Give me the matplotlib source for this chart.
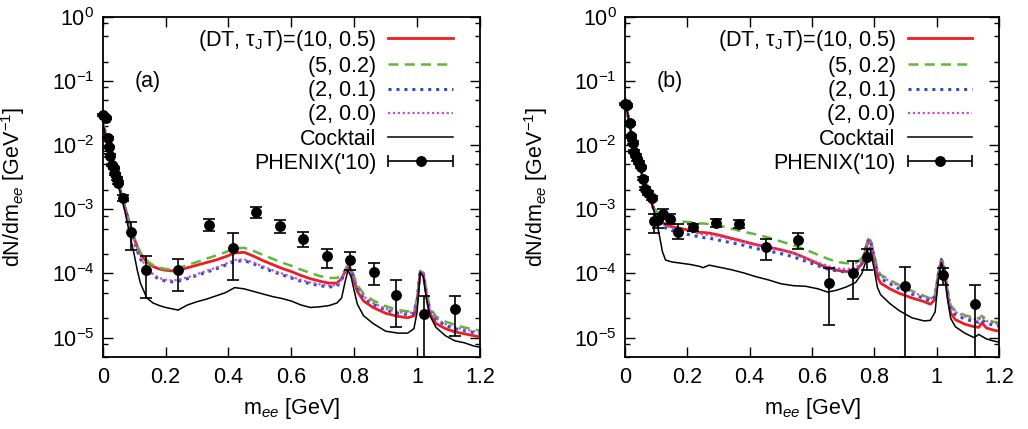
import numpy as np
import matplotlib
matplotlib.use('Agg')
import matplotlib.pyplot as plt
from matplotlib.ticker import LogLocator, NullFormatter, MultipleLocator, FuncFormatter
from matplotlib.lines import Line2D
from matplotlib.collections import LineCollection
from matplotlib.container import ErrorbarContainer
from matplotlib.legend_handler import HandlerErrorbar

FS = 15.5
plt.rcParams['font.family'] = ['Liberation Sans', 'DejaVu Sans']
plt.rcParams['mathtext.fontset'] = 'custom'
plt.rcParams['mathtext.rm'] = 'Liberation Sans'
plt.rcParams['mathtext.it'] = 'Liberation Sans:italic'
plt.rcParams['mathtext.bf'] = 'Liberation Sans:bold'
plt.rcParams['font.size'] = FS

# ---- panel (a): model curves, log10(dN/dm) on a common mass grid ----
xa = [0.00, 0.01, 0.02, 0.03, 0.04, 0.05, 0.06, 0.07, 0.08, 0.09,
      0.10, 0.11, 0.12, 0.14, 0.16, 0.18, 0.20, 0.22, 0.24, 0.27,
      0.30, 0.33, 0.36, 0.39, 0.42, 0.45, 0.48, 0.51, 0.54, 0.57,
      0.60, 0.63, 0.66, 0.69, 0.72, 0.745, 0.76, 0.77, 0.78, 0.79,
      0.80, 0.81, 0.83, 0.86, 0.90, 0.94, 0.97, 0.99, 1.00, 1.01,
      1.02, 1.03, 1.04, 1.06, 1.09, 1.12, 1.15, 1.18, 1.20]
red_a = [-1.62, -1.85, -2.05, -2.25, -2.42, -2.60, -2.78, -2.96, -3.12, -3.30,
         -3.45, -3.58, -3.69, -3.82, -3.89, -3.93, -3.95, -3.96, -3.95, -3.91,
         -3.87, -3.83, -3.79, -3.74, -3.68, -3.67, -3.73, -3.80, -3.86, -3.92,
         -3.97, -4.03, -4.08, -4.12, -4.15, -4.15, -4.08, -3.98, -3.88, -3.95,
         -4.12, -4.28, -4.43, -4.53, -4.62, -4.67, -4.69, -4.66, -4.45, -3.97,
         -4.02, -4.35, -4.62, -4.78, -4.86, -4.91, -4.94, -4.97, -4.99]
green_a = [-1.62, -1.85, -2.05, -2.25, -2.42, -2.60, -2.78, -2.96, -3.12, -3.29,
           -3.44, -3.57, -3.68, -3.80, -3.87, -3.91, -3.93, -3.94, -3.92, -3.87,
           -3.82, -3.77, -3.72, -3.67, -3.61, -3.60, -3.65, -3.71, -3.77, -3.83,
           -3.88, -3.94, -3.99, -4.04, -4.07, -4.07, -4.02, -3.95, -3.87, -3.92,
           -4.05, -4.18, -4.32, -4.42, -4.51, -4.57, -4.59, -4.57, -4.40, -3.96,
           -4.00, -4.28, -4.52, -4.67, -4.75, -4.80, -4.84, -4.87, -4.89]
blue_a = [-1.62, -1.85, -2.05, -2.25, -2.42, -2.60, -2.78, -2.97, -3.14, -3.33,
          -3.50, -3.65, -3.77, -3.93, -4.03, -4.09, -4.12, -4.13, -4.12, -4.08,
          -4.03, -3.98, -3.93, -3.87, -3.81, -3.80, -3.85, -3.91, -3.97, -4.02,
          -4.07, -4.12, -4.16, -4.19, -4.21, -4.20, -4.10, -3.98, -3.88, -3.94,
          -4.10, -4.24, -4.38, -4.48, -4.57, -4.62, -4.64, -4.62, -4.42, -3.96,
          -4.00, -4.32, -4.57, -4.72, -4.81, -4.86, -4.89, -4.92, -4.94]
magenta_a = [-1.62, -1.85, -2.05, -2.25, -2.42, -2.60, -2.78, -2.97, -3.14, -3.32,
             -3.49, -3.63, -3.75, -3.91, -4.01, -4.07, -4.10, -4.11, -4.10, -4.06,
             -4.01, -3.96, -3.91, -3.85, -3.79, -3.78, -3.83, -3.89, -3.95, -4.00,
             -4.05, -4.10, -4.14, -4.17, -4.19, -4.18, -4.09, -3.97, -3.87, -3.93,
             -4.09, -4.22, -4.36, -4.46, -4.55, -4.60, -4.62, -4.60, -4.41, -3.96,
             -4.00, -4.30, -4.55, -4.70, -4.79, -4.84, -4.87, -4.90, -4.92]
cocktail_a = [-1.65, -1.88, -2.08, -2.28, -2.45, -2.63, -2.82, -3.02, -3.25, -3.48,
              -3.70, -3.95, -4.15, -4.38, -4.46, -4.50, -4.53, -4.55, -4.57, -4.49,
              -4.44, -4.40, -4.35, -4.30, -4.22, -4.24, -4.28, -4.32, -4.36, -4.39,
              -4.43, -4.49, -4.53, -4.52, -4.50, -4.46, -4.38, -4.15, -3.95, -4.05,
              -4.27, -4.48, -4.66, -4.78, -4.90, -4.93, -4.93, -4.86, -4.60, -3.98,
              -4.05, -4.40, -4.65, -4.84, -4.97, -5.05, -5.08, -5.13, -5.15]

# PHENIX points for (a): mass, yield, lower and upper end of the error bar
pa_x = [0.000, 0.010, 0.016, 0.019, 0.023, 0.030, 0.035, 0.039, 0.044, 0.049,
        0.063, 0.089, 0.137, 0.238, 0.337, 0.413, 0.487, 0.563, 0.637, 0.713,
        0.786, 0.862, 0.934, 1.021, 1.122]
pa_y = [3.0e-2, 2.7e-2, 1.3e-2, 9.4e-3, 6.9e-3, 4.9e-3, 4.4e-3, 3.6e-3, 3.0e-3, 2.6e-3,
        1.5e-3, 4.4e-4, 1.15e-4, 1.12e-4, 5.8e-4, 2.5e-4, 9.1e-4, 5.5e-4, 3.5e-4, 1.85e-4,
        1.6e-4, 1.04e-4, 4.7e-5, 2.35e-5, 2.8e-5]
pa_lo = [2.9e-2, 2.6e-2, 1.25e-2, 9.0e-3, 6.6e-3, 4.7e-3, 4.2e-3, 3.45e-3, 2.85e-3, 2.45e-3,
         1.35e-3, 2.35e-4, 4.1e-5, 5.3e-5, 4.6e-4, 7.8e-5, 7.4e-4, 4.2e-4, 2.6e-4, 1.2e-4,
         1.15e-4, 6.6e-5, 1.45e-5, 5.0e-6, 1.07e-5]
pa_hi = [3.1e-2, 2.8e-2, 1.35e-2, 9.8e-3, 7.2e-3, 5.1e-3, 4.6e-3, 3.75e-3, 3.15e-3, 2.75e-3,
         1.65e-3, 6.3e-4, 1.86e-4, 1.7e-4, 7.1e-4, 4.3e-4, 1.1e-3, 6.9e-4, 4.4e-4, 2.4e-4,
         2.15e-4, 1.45e-4, 8.0e-5, 4.5e-5, 4.5e-5]

# ---- panel (b) ----
xb = [0.00, 0.01, 0.02, 0.03, 0.04, 0.05, 0.06, 0.07, 0.08, 0.09,
      0.10, 0.11, 0.12, 0.13, 0.15, 0.18, 0.21, 0.24, 0.25, 0.27,
      0.30, 0.34, 0.38, 0.42, 0.46, 0.50, 0.54, 0.58, 0.62, 0.65,
      0.68, 0.71, 0.74, 0.76, 0.77, 0.78, 0.785, 0.79, 0.80, 0.81,
      0.82, 0.85, 0.88, 0.92, 0.96, 0.98, 0.995, 1.005, 1.015, 1.025,
      1.035, 1.045, 1.06, 1.09, 1.12, 1.135, 1.145, 1.16, 1.18, 1.20]
red_b = [-1.28, -1.55, -1.82, -2.05, -2.22, -2.38, -2.55, -2.70, -2.83, -2.96,
         -3.07, -3.15, -3.20, -3.24, -3.27, -3.30, -3.33, -3.36, -3.36, -3.37,
         -3.40, -3.45, -3.50, -3.55, -3.59, -3.63, -3.68, -3.76, -3.85, -3.91,
         -3.95, -3.97, -3.96, -3.85, -3.68, -3.50, -3.48, -3.55, -3.78, -4.05,
         -4.15, -4.24, -4.31, -4.38, -4.44, -4.48, -4.40, -4.05, -3.80, -3.95,
         -4.35, -4.62, -4.72, -4.79, -4.83, -4.84, -4.77, -4.85, -4.88, -4.90]
green_b = [-1.28, -1.55, -1.82, -2.05, -2.22, -2.38, -2.55, -2.70, -2.83, -2.94,
           -3.02, -3.08, -3.12, -3.15, -3.17, -3.19, -3.20, -3.22, -3.22, -3.23,
           -3.25, -3.30, -3.35, -3.39, -3.44, -3.50, -3.56, -3.63, -3.71, -3.77,
           -3.82, -3.84, -3.84, -3.76, -3.62, -3.47, -3.45, -3.52, -3.72, -3.93,
           -4.02, -4.10, -4.18, -4.27, -4.35, -4.39, -4.32, -4.00, -3.77, -3.90,
           -4.25, -4.50, -4.58, -4.65, -4.69, -4.70, -4.66, -4.72, -4.75, -4.77]
blue_b = [-1.28, -1.55, -1.82, -2.05, -2.22, -2.38, -2.55, -2.70, -2.83, -2.97,
          -3.10, -3.19, -3.25, -3.29, -3.33, -3.37, -3.40, -3.43, -3.44, -3.45,
          -3.48, -3.52, -3.56, -3.61, -3.65, -3.69, -3.74, -3.81, -3.88, -3.93,
          -3.96, -3.98, -3.97, -3.85, -3.66, -3.48, -3.46, -3.53, -3.76, -3.99,
          -4.08, -4.16, -4.24, -4.32, -4.39, -4.43, -4.35, -4.02, -3.79, -3.92,
          -4.30, -4.56, -4.64, -4.71, -4.75, -4.76, -4.72, -4.78, -4.80, -4.82]
magenta_b = [-1.28, -1.55, -1.82, -2.05, -2.22, -2.38, -2.55, -2.70, -2.83, -2.96,
             -3.08, -3.16, -3.22, -3.26, -3.29, -3.32, -3.35, -3.38, -3.39, -3.40,
             -3.42, -3.47, -3.51, -3.56, -3.60, -3.64, -3.69, -3.76, -3.83, -3.88,
             -3.92, -3.93, -3.92, -3.81, -3.64, -3.47, -3.45, -3.52, -3.73, -3.95,
             -4.04, -4.12, -4.20, -4.29, -4.36, -4.40, -4.33, -4.01, -3.78, -3.91,
             -4.27, -4.52, -4.60, -4.67, -4.71, -4.72, -4.68, -4.74, -4.77, -4.79]
cocktail_b = [-1.28, -1.55, -1.82, -2.05, -2.22, -2.38, -2.55, -2.70, -2.83, -2.98,
              -3.15, -3.40, -3.66, -3.79, -3.82, -3.84, -3.86, -3.89, -3.91, -3.87,
              -3.90, -3.94, -3.99, -4.05, -4.10, -4.16, -4.19, -4.20, -4.24, -4.29,
              -4.26, -4.21, -4.14, -4.00, -3.85, -3.62, -3.60, -3.70, -3.95, -4.22,
              -4.33, -4.47, -4.58, -4.69, -4.74, -4.73, -4.60, -4.10, -3.83, -4.00,
              -4.40, -4.70, -4.83, -4.93, -5.00, -4.95, -4.98, -5.02, -5.05, -5.07]

pb_x = [0.000, 0.005, 0.016, 0.019, 0.025, 0.029, 0.035, 0.040, 0.045, 0.051,
        0.057, 0.064, 0.073, 0.086, 0.093, 0.107, 0.123, 0.144, 0.169, 0.217,
        0.292, 0.367, 0.452, 0.556, 0.654, 0.731, 0.777, 0.898, 1.021, 1.123]
pb_y = [4.4e-2, 4.2e-2, 2.2e-2, 1.38e-2, 1.1e-2, 7.9e-3, 6.9e-3, 6.0e-3, 5.3e-3, 4.6e-3,
        3.0e-3, 2.1e-3, 1.8e-3, 1.5e-3, 6.5e-4, 6.7e-4, 8.5e-4, 7.1e-4, 4.5e-4, 5.3e-4,
        6.1e-4, 6.0e-4, 2.6e-4, 3.3e-4, 7.1e-5, 1.0e-4, 1.8e-4, 6.3e-5, 9.3e-5, 3.4e-5]
pb_lo = [4.2e-2, 4.0e-2, 2.1e-2, 1.3e-2, 1.05e-2, 7.5e-3, 6.6e-3, 5.7e-3, 5.0e-3, 4.4e-3,
         2.85e-3, 2.0e-3, 1.7e-3, 1.4e-3, 4.2e-4, 5.2e-4, 7.0e-4, 6.0e-4, 3.4e-4, 4.6e-4,
         5.3e-4, 5.1e-4, 1.6e-4, 2.45e-4, 1.6e-5, 4.0e-5, 1.15e-4, 5.0e-6, 6.5e-5, 5.0e-6]
pb_hi = [4.6e-2, 4.4e-2, 2.3e-2, 1.46e-2, 1.15e-2, 8.3e-3, 7.2e-3, 6.3e-3, 5.6e-3, 4.8e-3,
         3.15e-3, 2.2e-3, 1.9e-3, 1.6e-3, 8.5e-4, 8.5e-4, 1.0e-3, 8.4e-4, 5.9e-4, 6.0e-4,
         7.0e-4, 6.9e-4, 3.4e-4, 4.2e-4, 1.2e-4, 1.55e-4, 2.45e-4, 1.26e-4, 1.23e-4, 6.7e-5]

labels = ['(DT, $\\mathrm{\\tau}_\\mathrm{J}$T)=(10, 0.5)', '(5, 0.2)', '(2, 0.1)',
          '(2, 0.0)', 'Cocktail', "PHENIX('10)"]

panels = [
    ('(a)', xa, [red_a, green_a, blue_a, magenta_a], cocktail_a, pa_x, pa_y, pa_lo, pa_hi),
    ('(b)', xb, [red_b, green_b, blue_b, magenta_b], cocktail_b, pb_x, pb_y, pb_lo, pb_hi),
]

styles = [
    dict(color='#ee1c24', lw=2.0, ls='-'),
    dict(color='#5fb839', lw=1.8, ls=(0, (4, 2.5))),
    dict(color='#2e4fc4', lw=2.2, ls=(0, (1, 1.6))),
    dict(color='#c54fc5', lw=1.6, ls=(0, (1, 1.2))),
]

fig = plt.figure(figsize=(10.28, 4.29), dpi=100)
rects = [[0.0999, 0.168, 0.367, 0.7926], [0.608, 0.168, 0.3638, 0.7926]]

for rect, (tag, xm, models, cocktail, px, py, plo, phi) in zip(rects, panels):
    ax = fig.add_axes(rect)
    handles = []
    for vals, st in zip(models, styles):
        h, = ax.plot(xm, np.power(10.0, vals), **st)
        handles.append(h)
    h, = ax.plot(xm, np.power(10.0, cocktail), color='black', lw=1.1)
    handles.append(h)

    py = np.array(py)
    yerr = [py - np.array(plo), np.array(phi) - py]
    eb = ax.errorbar(px, py, yerr=yerr, fmt='o', color='black', ms=6.8,
                     capsize=4, elinewidth=1.2, capthick=1.2, zorder=5)
    for art in [eb[0], *eb[1], *eb[2]]:
        art.set_clip_on(False)

    # legend entry for the data: horizontal bar with caps and a dot
    mk = Line2D([], [], color='black', marker='o', ms=6.8, ls='none')
    cap = Line2D([], [], color='black', marker='|', ms=8, mew=1.2, ls='none')
    bar = LineCollection([], colors='black', linewidths=1.2)
    proxy = ErrorbarContainer((mk, (cap, cap), (bar,)), has_xerr=True,
                              has_yerr=False, label=labels[-1])
    handles.append(proxy)

    hl = 3.0
    ax.legend(handles, labels, loc='upper right', bbox_to_anchor=(0.928, 0.968),
              frameon=False, markerfirst=False, handlelength=hl,
              handletextpad=0.55, labelspacing=0.15, borderpad=0, borderaxespad=0,
              numpoints=1, fontsize=FS,
              handler_map={proxy: HandlerErrorbar(xerr_size=hl / 2)})

    ax.text(0.1, 0.1, tag, va='center', ha='left', fontsize=FS)

    ax.set_yscale('log')
    ax.set_xlim(0, 1.2)
    ax.set_ylim(5e-6, 1)
    ax.xaxis.set_major_locator(MultipleLocator(0.2))
    ax.xaxis.set_major_formatter(FuncFormatter(lambda v, p: f'{v:g}'))
    ax.yaxis.set_major_locator(LogLocator(base=10, numticks=10))
    ax.yaxis.set_minor_locator(LogLocator(base=10, subs=(2, 5, 8), numticks=10))
    ax.yaxis.set_minor_formatter(NullFormatter())
    ax.tick_params(which='both', direction='in', top=True, right=True, width=1.0)
    ax.tick_params(which='major', length=7, labelsize=FS)
    ax.tick_params(axis='x', which='major', pad=7)
    ax.tick_params(axis='y', which='major', pad=6)
    ax.tick_params(which='minor', length=3.5)
    for sp in ax.spines.values():
        sp.set_linewidth(1.3)

    ax.set_xlabel('m$_{ee}$ [GeV]', fontsize=FS, labelpad=6)
    ax.set_ylabel('dN/dm$_{ee}$ [GeV$^{-1}$]', fontsize=FS)
    ax.yaxis.set_label_coords(-0.2, 0.5)

fig.savefig('out.png', dpi=100)
